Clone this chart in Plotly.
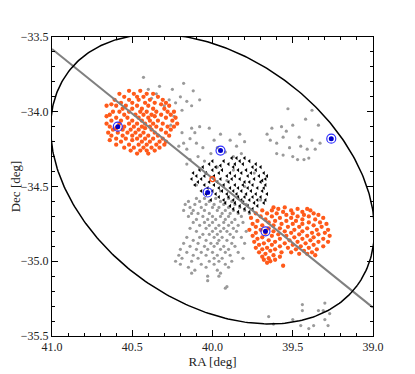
import numpy as np
import plotly.graph_objects as go

# ---- data (RA, Dec in degrees) ----
# rows: (dec, [ra, ra, ...])
orange_west_rows = [
    (-33.86, [40.52, 40.45]),
    (-33.88, [40.58, 40.49, 40.41, 40.37]),
    (-33.90, [40.55, 40.47, 40.43, 40.34]),
    (-33.92, [40.61, 40.52, 40.46, 40.39, 40.31]),
    (-33.94, [40.57, 40.50, 40.42, 40.36, 40.29]),
    (-33.95, [40.63, 40.32]),
    (-33.96, [40.66, 40.60, 40.54, 40.47, 40.40, 40.27]),
    (-33.98, [40.56, 40.50, 40.44, 40.37, 40.30]),
    (-34.00, [40.62, 40.58, 40.52, 40.45, 40.41, 40.35, 40.28, 40.24]),
    (-34.02, [40.64, 40.55, 40.48, 40.43, 40.38, 40.32, 40.26]),
    (-34.03, [40.66, 40.36]),
    (-34.04, [40.60, 40.53, 40.46, 40.40, 40.29, 40.23]),
    (-34.06, [40.63, 40.57, 40.50, 40.44, 40.39, 40.34, 40.25]),
    (-34.08, [40.66, 40.58, 40.52, 40.47, 40.42, 40.37, 40.31, 40.22]),
    (-34.10, [40.64, 40.55, 40.49, 40.44, 40.39, 40.35, 40.28, 40.24]),
    (-34.11, [40.60, 40.42]),
    (-34.12, [40.62, 40.56, 40.51, 40.46, 40.38, 40.32, 40.26]),
    (-34.14, [40.65, 40.59, 40.53, 40.48, 40.43, 40.36, 40.29]),
    (-34.16, [40.63, 40.56, 40.50, 40.45, 40.40, 40.34, 40.27]),
    (-34.18, [40.60, 40.54, 40.47, 40.42, 40.37, 40.31]),
    (-34.19, [40.64, 40.50]),
    (-34.20, [40.57, 40.44, 40.39, 40.33, 40.29]),
    (-34.22, [40.60, 40.52, 40.46, 40.41, 40.35, 40.30]),
    (-34.24, [40.55, 40.49, 40.43, 40.38, 40.33]),
    (-34.26, [40.51, 40.45, 40.41, 40.36]),
    (-34.28, [40.47, 40.40]),
]

orange_east_rows = [
    (-34.64, [39.62, 39.55]),
    (-34.65, [39.59, 39.47, 39.41]),
    (-34.66, [39.69, 39.63, 39.51, 39.39]),
    (-34.67, [39.56, 39.44]),
    (-34.68, [39.73, 39.66, 39.60, 39.50, 39.37]),
    (-34.69, [39.54, 39.43, 39.34]),
    (-34.70, [39.70, 39.63, 39.47, 39.40]),
    (-34.71, [39.76, 39.58, 39.51, 39.31]),
    (-34.72, [39.67, 39.44, 39.36]),
    (-34.73, [39.72, 39.61, 39.54, 39.48]),
    (-34.74, [39.65, 39.40, 39.33]),
    (-34.75, [39.75, 39.57, 39.50, 39.44, 39.29]),
    (-34.76, [39.69, 39.62, 39.37]),
    (-34.77, [39.73, 39.53, 39.46, 39.32]),
    (-34.78, [39.65, 39.58, 39.41]),
    (-34.79, [39.77, 39.70, 39.49, 39.35, 39.28]),
    (-34.80, [39.62, 39.55, 39.44]),
    (-34.81, [39.73, 39.67, 39.51, 39.38, 39.30]),
    (-34.82, [39.59, 39.46, 39.34]),
    (-34.83, [39.75, 39.63, 39.54, 39.41, 39.27]),
    (-34.84, [39.69, 39.49, 39.37]),
    (-34.85, [39.72, 39.58, 39.44, 39.31]),
    (-34.86, [39.65, 39.52, 39.39]),
    (-34.87, [39.74, 39.61, 39.47, 39.34, 39.28]),
    (-34.88, [39.68, 39.55, 39.42]),
    (-34.89, [39.71, 39.63, 39.50, 39.37]),
    (-34.90, [39.58, 39.45, 39.31]),
    (-34.91, [39.73, 39.66, 39.53, 39.40]),
    (-34.92, [39.69, 39.61, 39.48, 39.35]),
    (-34.93, [39.64, 39.43]),
    (-34.94, [39.71, 39.57, 39.51, 39.38]),
    (-34.95, [39.67, 39.46, 39.41]),
    (-34.96, [39.62, 39.36]),
    (-34.97, [39.69, 39.58]),
    (-34.98, [39.65]),
    (-34.99, [39.68, 39.61]),
    (-35.00, [39.64]),
    (-35.01, [39.66]),
    (-35.03, [39.56]),
]

gray_rows = [
    # upper, right of the western clump
    (-33.77, [40.43]), (-33.81, [40.18]), (-33.83, [40.33]),
    (-33.85, [40.40, 40.25]), (-33.86, [40.12]), (-33.88, [40.35]),
    (-33.90, [40.20]), (-33.91, [40.38]), (-33.92, [40.27, 40.08]),
    (-33.93, [40.16]), (-33.94, [40.23]), (-33.96, [40.30, 40.13]),
    (-33.99, [40.19]), (-34.03, [40.24]), (-34.09, [40.26]),
    # middle band
    (-34.10, [40.08]), (-34.11, [40.13, 40.02]), (-34.14, [40.19, 40.11]),
    (-34.15, [39.95, 39.83]), (-34.18, [40.14]), (-34.19, [39.99, 39.89]),
    (-34.20, [39.80]), (-34.21, [40.18, 40.10]), (-34.23, [40.21, 39.85]),
    (-34.24, [40.06, 39.97]), (-34.25, [40.16]), (-34.27, [39.92]),
    (-34.28, [40.01, 39.82]), (-34.30, [40.09, 39.87]), (-34.32, [40.14]),
    (-34.33, [40.05]), (-34.35, [40.16]), (-34.37, [39.97]),
    (-34.38, [40.08]), (-34.39, [39.87]), (-34.41, [40.04, 39.74]),
    (-34.46, [39.91]), (-34.49, [40.10]), (-34.50, [39.80]),
    (-34.53, [39.95]), (-34.59, [39.70]), (-34.68, [39.77]),
    # lower clump
    (-34.58, [40.10, 40.05, 39.98, 39.90, 39.84]),
    (-34.60, [40.15, 40.08, 40.02, 39.95, 39.88, 39.81]),
    (-34.62, [40.17, 40.11, 40.04, 39.99, 39.93, 39.86, 39.79]),
    (-34.64, [40.14, 40.07, 40.00, 39.96, 39.90, 39.83]),
    (-34.66, [40.18, 40.12, 40.05, 39.97, 39.92, 39.87, 39.80]),
    (-34.68, [40.13, 40.09, 40.02, 39.94, 39.89, 39.84]),
    (-34.70, [40.15, 40.06, 40.00, 39.95, 39.90, 39.82]),
    (-34.72, [40.10, 40.03, 39.98, 39.92, 39.86]),
    (-34.74, [40.12, 40.05, 40.00, 39.93, 39.88, 39.81]),
    (-34.76, [40.08, 40.02, 39.96, 39.90, 39.84]),
    (-34.78, [40.14, 40.04, 39.98, 39.93, 39.87]),
    (-34.80, [40.10, 40.00, 39.95, 39.91, 39.85, 39.79]),
    (-34.82, [40.06, 40.02, 39.97, 39.89]),
    (-34.84, [40.16, 40.08, 39.99, 39.94, 39.87, 39.82]),
    (-34.86, [40.12, 40.04, 39.96, 39.91]),
    (-34.88, [40.18, 40.09, 40.01, 39.97, 39.88, 39.80]),
    (-34.90, [40.14, 40.05, 39.99, 39.93, 39.86]),
    (-34.92, [40.20, 40.10, 40.03, 39.95, 39.90]),
    (-34.94, [40.16, 40.07, 40.00, 39.92, 39.84]),
    (-34.96, [40.21, 40.12, 40.04, 39.97, 39.89]),
    (-34.98, [40.19, 40.09, 39.99, 39.94, 39.81]),
    (-35.00, [40.23, 40.13, 40.02, 39.96, 39.88]),
    (-35.02, [40.20, 40.07, 39.99, 39.92]),
    (-35.04, [40.15, 40.04, 39.90]),
    (-35.06, [40.11, 39.97]),
    (-35.08, [40.13, 39.95]),
    (-35.10, [40.03, 39.96]),
    (-35.13, [40.03]),
    (-35.17, [39.91]),
    (-35.18, [39.92]),
    # north-east group
    (-33.98, [39.53]), (-33.99, [39.38]), (-34.05, [39.42]),
    (-34.09, [39.50, 39.34]), (-34.10, [39.57]), (-34.11, [39.63]),
    (-34.13, [39.54]), (-34.15, [39.66]), (-34.17, [39.56, 39.46]),
    (-34.19, [39.64, 39.38]), (-34.21, [39.60, 39.33]), (-34.23, [39.45]),
    (-34.24, [39.52]), (-34.25, [39.41, 39.36]), (-34.28, [39.60]),
    (-34.29, [39.56]), (-34.30, [39.50]), (-34.31, [39.40]),
    (-34.32, [39.47, 39.43]),
    # south-east corner
    (-35.28, [39.30]), (-35.29, [39.44]), (-35.33, [39.44, 39.34, 39.31]),
    (-35.35, [39.27]), (-35.37, [39.65]), (-35.39, [39.50, 39.30]),
    (-35.42, [39.62]), (-35.43, [39.45, 39.37, 39.28]), (-35.45, [39.40]),
]

black_rows = [
    (-34.31, [39.88, 39.85, 39.80]),
    (-34.33, [40.00, 39.93, 39.83, 39.77]),
    (-34.35, [40.02, 39.90, 39.86, 39.81, 39.73]),
    (-34.36, [39.95]),
    (-34.37, [40.06, 39.98, 39.87, 39.75, 39.70]),
    (-34.39, [40.08, 40.00, 39.94, 39.84, 39.79, 39.73]),
    (-34.41, [40.12, 40.04, 39.96, 39.89, 39.82, 39.76, 39.68]),
    (-34.43, [40.10, 40.05, 39.99, 39.91, 39.86, 39.78, 39.71, 39.66]),
    (-34.45, [40.13, 40.07, 39.95, 39.88, 39.83, 39.74, 39.67]),
    (-34.46, [39.69]),
    (-34.47, [40.09, 40.02, 39.97, 39.90, 39.80, 39.77, 39.70]),
    (-34.49, [40.11, 40.05, 39.99, 39.93, 39.86, 39.81, 39.75, 39.67]),
    (-34.51, [40.03, 39.96, 39.89, 39.84, 39.78, 39.72, 39.68]),
    (-34.53, [40.07, 40.00, 39.94, 39.87, 39.82, 39.76, 39.69]),
    (-34.55, [40.04, 39.98, 39.91, 39.85, 39.79, 39.73, 39.66]),
    (-34.57, [39.96, 39.90, 39.84, 39.80, 39.75, 39.70]),
    (-34.59, [40.01, 39.93, 39.87, 39.82, 39.77, 39.72, 39.67]),
    (-34.61, [39.92, 39.86, 39.81, 39.74, 39.68]),
    (-34.63, [39.89, 39.83, 39.78, 39.72]),
    (-34.65, [39.87, 39.80, 39.75]),
    (-34.67, [39.84, 39.77]),
]

blue_ra = [40.59, 39.95, 40.03, 39.67, 39.26]
blue_dec = [-34.10, -34.26, -34.54, -34.80, -34.18]

centre_ra, centre_dec = 40.00, -34.45

# axis of the stream (end points at the plot edges)
line_ra = [41.0, 39.0]
line_dec = [-33.58, -35.31]

# ellipse: centre plus semi-axis vectors (deg)
ell_u = (-0.903, -0.710)
ell_v = (0.450, -0.660)


def flatten(rows):
    ra, dec = [], []
    for d, ras in rows:
        for r in ras:
            ra.append(r)
            dec.append(d)
    return ra, dec


t = np.linspace(0, 2 * np.pi, 361)
ell_ra = centre_ra + ell_u[0] * np.cos(t) + ell_v[0] * np.sin(t)
ell_dec = centre_dec + ell_u[1] * np.cos(t) + ell_v[1] * np.sin(t)

fig = go.Figure()

gx, gy = flatten(gray_rows)
fig.add_trace(go.Scatter(x=gx, y=gy, mode='markers',
                         marker=dict(size=3.2, color='#9a9a9a')))

bx, by = flatten(black_rows)
fig.add_trace(go.Scatter(x=bx, y=by, mode='markers',
                         marker=dict(size=3.6, color='black', symbol='triangle-left')))

for rows in (orange_west_rows, orange_east_rows):
    ox, oy = flatten(rows)
    fig.add_trace(go.Scatter(x=ox, y=oy, mode='markers',
                             marker=dict(size=4.3, color='#ff5a1a')))

fig.add_trace(go.Scatter(x=line_ra, y=line_dec, mode='lines',
                         line=dict(color='#808080', width=2)))
fig.add_trace(go.Scatter(x=ell_ra, y=ell_dec, mode='lines',
                         line=dict(color='black', width=1.5)))

fig.add_trace(go.Scatter(x=[centre_ra], y=[centre_dec], mode='markers',
                         marker=dict(size=5, color='#ff4a10', symbol='circle-open',
                                     line=dict(width=1.3))))
fig.add_trace(go.Scatter(x=blue_ra, y=blue_dec, mode='markers',
                         marker=dict(size=9, color='#3030ff', symbol='circle-open',
                                     line=dict(width=1.2))))
fig.add_trace(go.Scatter(x=blue_ra, y=blue_dec, mode='markers',
                         marker=dict(size=5, color='#0000c8')))

serif = 'Liberation Serif'
axis_style = dict(showline=True, linecolor='black', linewidth=1, mirror='ticks',
                  ticks='inside', ticklen=6, tickwidth=1, tickcolor='black',
                  showgrid=False, zeroline=False, tickformat='.1f', dtick=0.5,
                  automargin=False,
                  minor=dict(dtick=0.1, ticks='inside', ticklen=3, tickcolor='black'),
                  tickfont=dict(family=serif, size=12, color='#222'))

fig.update_xaxes(range=[41, 39], tick0=39,
                 title=dict(text='RA [deg]', standoff=0, font=dict(family=serif, size=13)),
                 **axis_style)
fig.update_yaxes(range=[-35.5, -33.5], tick0=-35.5,
                 title=dict(text='Dec [deg]', standoff=0, font=dict(family=serif, size=13)),
                 **axis_style)

# the page sits 8px in from the window corner, so the figure is trimmed to fit
fig.update_layout(width=407, height=366, margin=dict(l=44, r=42, t=29, b=38),
                  showlegend=False, plot_bgcolor='white', paper_bgcolor='white',
                  font=dict(family=serif, size=13, color='#222'))

fig.write_html("out.html")
